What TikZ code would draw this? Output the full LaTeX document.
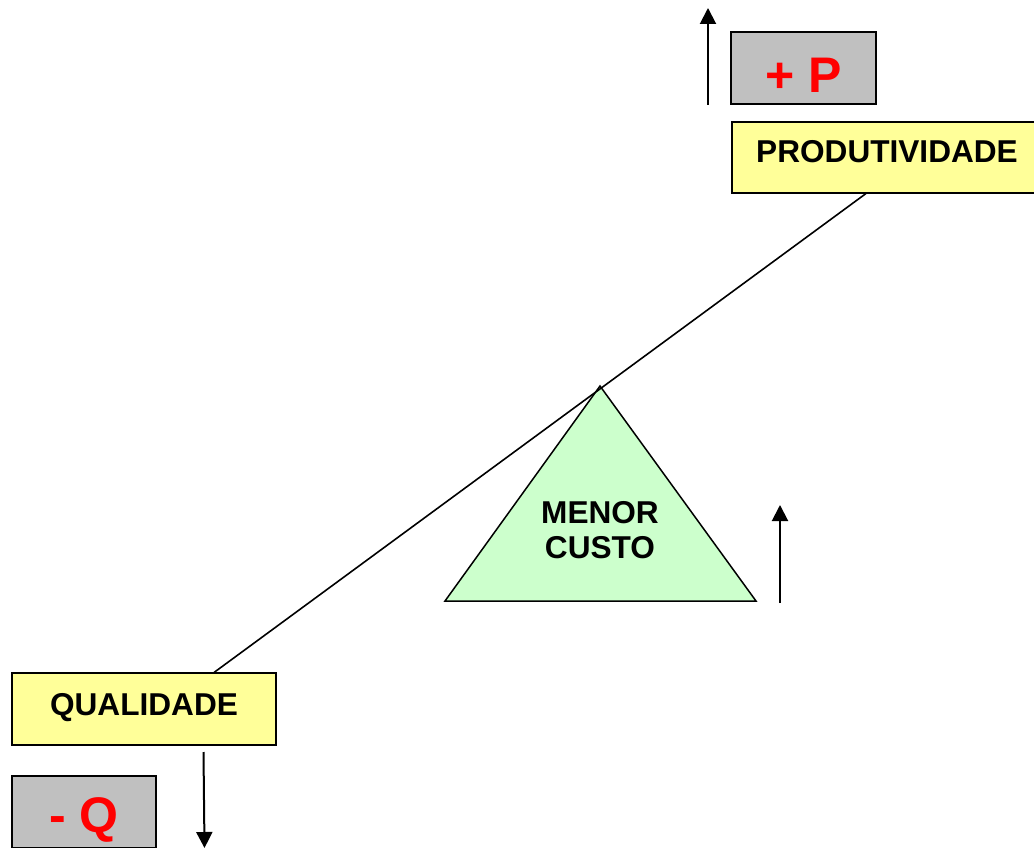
\documentclass[tikz,border=0pt]{standalone}
\usepackage{fontspec}
\setmainfont{Liberation Sans}
\usetikzlibrary{arrows.meta}
\definecolor{boxyellow}{HTML}{FFFF99}
\definecolor{boxgray}{HTML}{C0C0C0}
\definecolor{fulcrum}{HTML}{CCFFCC}
\begin{document}
\begin{tikzpicture}[x=1pt,y=-1pt,
  tag/.style={rectangle,draw=black,line width=1.5pt,fill=boxyellow,inner sep=0pt,
    font=\fontsize{31.6}{35}\selectfont\bfseries,text height=22.6pt},
  sign/.style={rectangle,draw=black,line width=1.5pt,fill=boxgray,inner sep=0pt,
    text=red,font=\fontsize{50}{55}\selectfont\bfseries},
  lever/.style={line width=1.6pt},
  trend/.style={line width=2pt,arrows={-Triangle[width=16pt,length=16pt]}}]
\useasboundingbox (0,0) rectangle (1034,848);

% output indicators
\node[sign,minimum width=145pt,minimum height=72pt,text height=50pt,text depth=0pt] (plus) at (803.5,68) {+ P};
\node[sign,minimum width=144pt,minimum height=72pt,text height=40pt,text depth=0pt] (minus) at (84,812) {- Q};

% lever ends (the productivity box runs past the right edge)
\node[tag,minimum width=310pt,minimum height=71pt,text depth=12pt] (prod) at (887,157.5) {PRODUTIVIDADE};
\node[tag,minimum width=264pt,minimum height=72pt,text depth=10pt] (qual) at (144,709) {QUALIDADE};

% fulcrum
\coordinate (apex) at (600,386);
\coordinate (bl) at (445,601);
\coordinate (br) at (756,601);
\filldraw[fill=fulcrum,draw=black,line width=1.5pt,line join=miter] (apex) -- (br) -- (bl) -- cycle;
\node[font=\fontsize{31.6}{35}\selectfont\bfseries,align=center] (cost) at (600,530) {MENOR\\CUSTO};

% lever beam
\coordinate (beamtop) at (866,193.5);
\coordinate (beambot) at (214,672.5);
\draw[lever] (beamtop) -- (beambot);

% trend arrows
\coordinate (pup0) at (708,105);
\coordinate (pup1) at (708,8);
\coordinate (cup0) at (780,603);
\coordinate (cup1) at (780,505);
\coordinate (qdn0) at (203.5,752);
\coordinate (qdn1) at (204.5,848);
\draw[trend] (pup0) -- (pup1);
\draw[trend] (cup0) -- (cup1);
\draw[trend] (qdn0) -- (qdn1);
\end{tikzpicture}
\end{document}
